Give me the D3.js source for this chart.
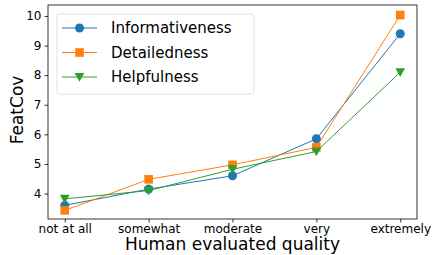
<!DOCTYPE html>
<html>
<head>
<meta charset="utf-8">
<script src="https://cdn.jsdelivr.net/npm/d3@7"></script>
<style>
  body { margin: 0; background: #fff; }
  text { font-family: "DejaVu Sans", sans-serif; fill: #000; }
</style>
</head>
<body>
<svg id="chart" width="432" height="255"></svg>
<script>
// Chart data
const categories = ["not at all", "somewhat", "moderate", "very", "extremely"];
const informativeness = [3.6, 4.15, 4.6, 5.85, 9.4];
const detailedness = [3.43, 4.48, 4.97, 5.56, 10.03];
const helpfulness = [3.82, 4.1, 4.82, 5.42, 8.1];
const yTicks = [4, 5, 6, 7, 8, 9, 10];

const series = [
  { name: "Informativeness", values: informativeness, color: "#1f77b4", marker: "circle" },
  { name: "Detailedness", values: detailedness, color: "#ff7f0e", marker: "square" },
  { name: "Helpfulness", values: helpfulness, color: "#2ca02c", marker: "triangle" },
];

const svg = d3.select("#chart");
const margin = { left: 48, right: 15, top: 5, bottom: 36 };
const width = 432, height = 255;

// x uses matplotlib-like 5% padding on either side
const x = d3.scalePoint()
  .domain(categories)
  .range([margin.left, width - margin.right])
  .padding(0.2);

const y = d3.scaleLinear()
  .domain([3.14, 10.37])
  .range([height - margin.bottom, margin.top]);

// Axes
const xAxis = svg.append("g")
  .attr("transform", `translate(0,${height - margin.bottom})`)
  .call(d3.axisBottom(x).tickSizeOuter(0).tickSize(3.5).tickPadding(1.5));
xAxis.selectAll("text").attr("font-size", "12px");

const yAxis = svg.append("g")
  .attr("transform", `translate(${margin.left},0)`)
  .call(d3.axisLeft(y).tickValues(yTicks).tickSizeOuter(0).tickSize(3.5).tickPadding(3));
yAxis.selectAll("text").attr("font-size", "12px");

svg.selectAll(".domain").remove();
svg.selectAll(".tick line").attr("stroke", "#000").attr("stroke-width", 0.8);

// Frame
svg.append("rect")
  .attr("x", margin.left)
  .attr("y", margin.top)
  .attr("width", width - margin.left - margin.right)
  .attr("height", height - margin.top - margin.bottom)
  .attr("fill", "none")
  .attr("stroke", "#000")
  .attr("stroke-width", 0.8);

// Axis labels
svg.append("text")
  .attr("x", (margin.left + width - margin.right) / 2)
  .attr("y", 250)
  .attr("text-anchor", "middle")
  .attr("font-size", "17px")
  .text("Human evaluated quality");

svg.append("text")
  .attr("transform", `translate(23,110) rotate(-90)`)
  .attr("text-anchor", "middle")
  .attr("font-size", "17px")
  .text("FeatCov");

// Marker drawing helper
function drawMarker(g, type, color, cx, cy) {
  if (type === "circle") {
    g.append("circle").attr("cx", cx).attr("cy", cy).attr("r", 4.5).attr("fill", color);
  } else if (type === "square") {
    g.append("rect").attr("x", cx - 4.3).attr("y", cy - 4.3)
      .attr("width", 8.6).attr("height", 8.6).attr("fill", color);
  } else {
    g.append("path")
      .attr("d", `M${cx - 4.8},${cy - 4} L${cx + 4.8},${cy - 4} L${cx},${cy + 4.8} Z`)
      .attr("fill", color);
  }
}

const line = d3.line()
  .x((d, i) => x(categories[i]))
  .y((d) => y(d));

// Lines and markers
series.forEach((s) => {
  const g = svg.append("g");
  g.append("path")
    .datum(s.values)
    .attr("d", line)
    .attr("fill", "none")
    .attr("stroke", s.color)
    .attr("stroke-width", 1);
  s.values.forEach((v, i) => drawMarker(g, s.marker, s.color, x(categories[i]), y(v)));
});

// Legend
const legend = svg.append("g");
legend.append("rect")
  .attr("x", 57).attr("y", 14)
  .attr("width", 197).attr("height", 80)
  .attr("rx", 3)
  .attr("fill", "#fff").attr("fill-opacity", 0.8)
  .attr("stroke", "#d9d9d9").attr("stroke-width", 0.8);

series.forEach((s, i) => {
  const ly = 28 + i * 24.5;
  legend.append("line")
    .attr("x1", 62).attr("x2", 97)
    .attr("y1", ly).attr("y2", ly)
    .attr("stroke", s.color).attr("stroke-width", 1);
  drawMarker(legend, s.marker, s.color, 79.5, ly);
  legend.append("text")
    .attr("x", 111).attr("y", ly)
    .attr("dy", "0.36em")
    .attr("font-size", "15px")
    .text(s.name);
});
</script>
</body>
</html>
